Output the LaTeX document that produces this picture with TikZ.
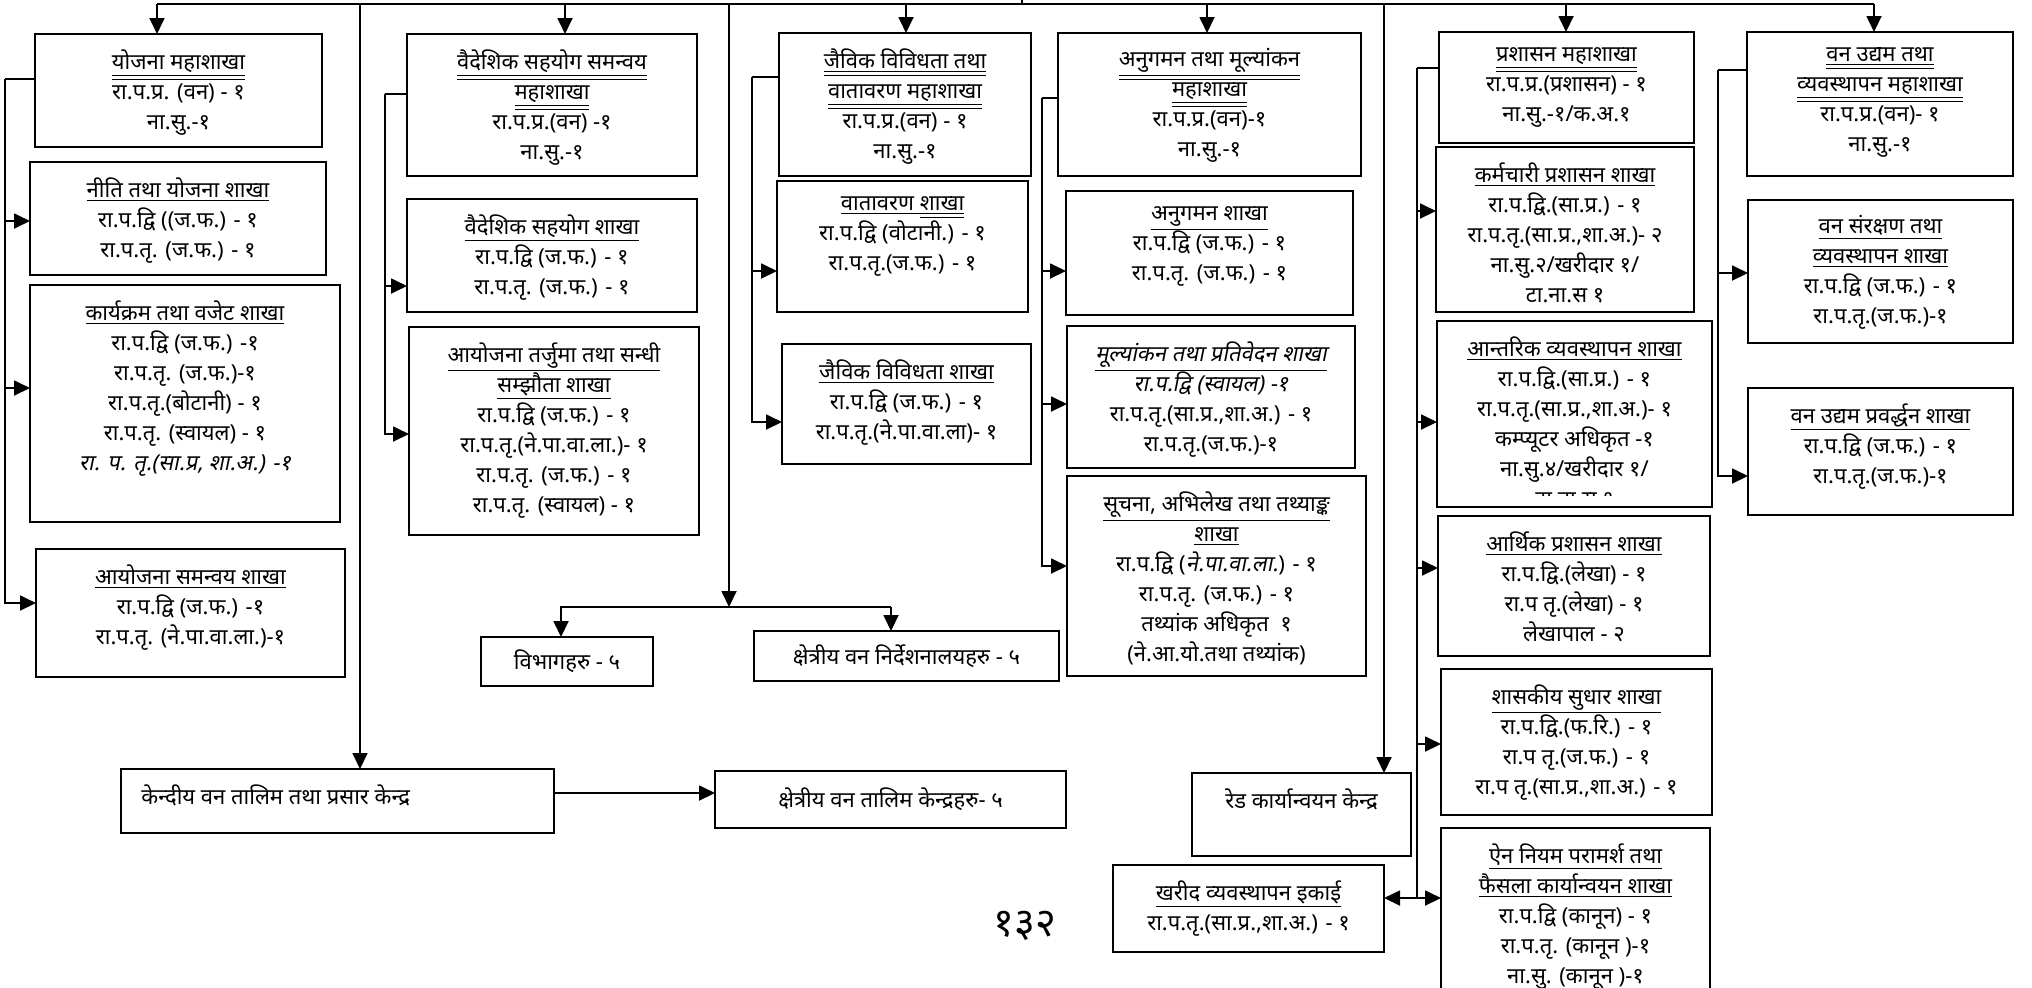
\documentclass[tikz,border=0pt]{standalone}
\usepackage{fontspec}
\newfontfamily\deva[Script=Devanagari]{Noto Sans}
\newfontfamily\devasl[Script=Devanagari,FakeSlant=0.2]{Noto Sans}
\usetikzlibrary{arrows.meta,positioning}

\newcommand{\sline}[1]{\underline{#1}}
\newcommand{\dline}[1]{\underline{\underline{#1}}}

\tikzset{
  orgbox/.style={rectangle, draw, line width=1.1pt, anchor=north west, inner sep=0pt, outer sep=0pt},
  orgtxt/.style={font=\deva\fontsize{11}{15}\selectfont, align=center, inner sep=0pt},
  conn/.style={line width=0.9pt},
  arr/.style={line width=0.9pt, -{Triangle[length=8pt,width=7.5pt]}},
}

\begin{document}
\begin{tikzpicture}[x=0.5pt, y=-0.5pt]
\useasboundingbox (0,0) rectangle (2032,987);

% boxes
\node[orgbox, minimum width=143.5pt, minimum height=56.5pt] (yojana) at (35,34) {};
\node[orgbox, minimum width=148pt, minimum height=56.5pt] (niti) at (30,162) {};
\node[orgbox, minimum width=155pt, minimum height=118.5pt] (karyakram) at (30,285) {};
\node[orgbox, minimum width=154.5pt, minimum height=64pt] (samanvaya) at (36,549) {};
\node[orgbox, minimum width=145pt, minimum height=71pt] (vaideshik) at (407,34) {};
\node[orgbox, minimum width=145pt, minimum height=56.5pt] (sahayog) at (407,199) {};
\node[orgbox, minimum width=145pt, minimum height=104pt] (tarjuma) at (409,327) {};
\node[orgbox, orgtxt, minimum width=86pt, minimum height=24.5pt] (vibhag) at (481,637) {विभागहरु - ५};
\node[orgbox, orgtxt, minimum width=152.5pt, minimum height=25pt] (nirdesh) at (754,631) {क्षेत्रीय वन निर्देशनालयहरु - ५};
\node[orgbox, minimum width=216.5pt, minimum height=32pt] (kendriya) at (121,769) {};
\node[orgbox, orgtxt, minimum width=175.5pt, minimum height=28.5pt] (talim) at (715,771) {क्षेत्रीय वन तालिम केन्द्रहरु- ५};
\node[orgbox, minimum width=126pt, minimum height=71.5pt] (jaivik) at (779,33) {};
\node[orgbox, minimum width=125.5pt, minimum height=65.5pt] (vatavaran) at (777,181) {};
\node[orgbox, minimum width=124.5pt, minimum height=60pt] (jshakha) at (782,344) {};
\node[orgbox, minimum width=151.5pt, minimum height=71.5pt] (anugaman) at (1058,33) {};
\node[orgbox, minimum width=143.5pt, minimum height=62pt] (ashakha) at (1066,191) {};
\node[orgbox, minimum width=144pt, minimum height=71pt] (mulyankan) at (1067,326) {};
\node[orgbox, minimum width=149.5pt, minimum height=100pt] (suchana) at (1067,476) {};
\node[orgbox, minimum width=109.5pt, minimum height=41.5pt] (red) at (1192,773) {};
\node[orgbox, minimum width=135.5pt, minimum height=43.5pt] (kharid) at (1113,865) {};
\node[orgbox, minimum width=127.5pt, minimum height=55.5pt] (prashasan) at (1439,32) {};
\node[orgbox, minimum width=129pt, minimum height=82.5pt] (karmachari) at (1436,147) {};
\node[orgbox, minimum width=137.5pt, minimum height=93pt] (antarik) at (1437,321) {};
\node[orgbox, minimum width=136pt, minimum height=70pt] (arthik) at (1438,516) {};
\node[orgbox, minimum width=135.5pt, minimum height=73pt] (shasakiya) at (1441,669) {};
\node[orgbox, minimum width=134.5pt, minimum height=90pt] (ain) at (1441,828) {};
\node[orgbox, minimum width=133pt, minimum height=72pt] (vanudyam) at (1747,32) {};
\node[orgbox, minimum width=132.5pt, minimum height=71.5pt] (samrakshan) at (1748,200) {};
\node[orgbox, minimum width=132.5pt, minimum height=63.5pt] (pravardhan) at (1748,388) {};

% texts
\node[orgtxt, below=7.5pt of yojana.north] (yojana-t) {\dline{योजना महाशाखा}\\ रा.प.प्र. (वन) - १\\ ना.सु.-१};
\node[orgtxt, below=7.5pt of niti.north] (niti-t) {\sline{नीति तथा योजना शाखा}\\ रा.प.द्वि ((ज.फ.) - १\\ रा.प.तृ. (ज.फ.) - १};
\node[orgtxt, below=7.5pt of karyakram.north] (karyakram-t) {\sline{कार्यक्रम तथा वजेट शाखा}\\ रा.प.द्वि (ज.फ.) -१\\ रा.प.तृ. (ज.फ.)-१\\ रा.प.तृ.(बोटानी) - १\\ रा.प.तृ. (स्वायल) - १\\ {\devasl रा. प. तृ.(सा.प्र, शा.अ.) -१}};
\node[orgtxt, below=7.5pt of samanvaya.north] (samanvaya-t) {\sline{आयोजना समन्वय शाखा}\\ रा.प.द्वि (ज.फ.) -१\\ रा.प.तृ. (ने.पा.वा.ला.)-१};
\node[orgtxt, below=7.5pt of vaideshik.north] (vaideshik-t) {\dline{वैदेशिक सहयोग समन्वय}\\ \dline{महाशाखा}\\ रा.प.प्र.(वन) -१\\ ना.सु.-१};
\node[orgtxt, below=7.5pt of sahayog.north] (sahayog-t) {\sline{वैदेशिक सहयोग शाखा}\\ रा.प.द्वि (ज.फ.) - १\\ रा.प.तृ. (ज.फ.) - १};
\node[orgtxt, below=7.5pt of tarjuma.north] (tarjuma-t) {\sline{आयोजना तर्जुमा तथा सन्धी}\\ \sline{सम्झौता शाखा}\\ रा.प.द्वि (ज.फ.) - १\\ रा.प.तृ.(ने.पा.वा.ला.)- १\\ रा.प.तृ. (ज.फ.) - १\\ रा.प.तृ. (स्वायल) - १};
\node[orgtxt, right=10pt of kendriya.west, yshift=3pt] (kendriya-t) {केन्दीय वन तालिम तथा प्रसार केन्द्र};
\node[orgtxt, below=7.5pt of jaivik.north] (jaivik-t) {\dline{जैविक विविधता तथा}\\ \dline{वातावरण महाशाखा}\\ रा.प.प्र.(वन) - १\\ ना.सु.-१};
\node[orgtxt, below=7.5pt of vatavaran.north] (vatavaran-t) {\sline{वातावरण }\dline{शाखा}\\ रा.प.द्वि (वोटानी.) - १\\ रा.प.तृ.(ज.फ.) - १};
\node[orgtxt, below=7.5pt of jshakha.north] (jshakha-t) {\sline{जैविक विविधता शाखा}\\ रा.प.द्वि (ज.फ.) - १\\ रा.प.तृ.(ने.पा.वा.ला)- १};
\node[orgtxt, below=7.5pt of anugaman.north] (anugaman-t) {\dline{अनुगमन तथा मूल्यांकन}\\ \dline{महाशाखा}\\ रा.प.प्र.(वन)-१\\ ना.सु.-१};
\node[orgtxt, below=7.5pt of ashakha.north] (ashakha-t) {\sline{अनुगमन शाखा}\\ रा.प.द्वि (ज.फ.) - १\\ रा.प.तृ. (ज.फ.) - १};
\node[orgtxt, below=7.5pt of mulyankan.north] (mulyankan-t) {\sline{\devasl मूल्यांकन तथा प्रतिवेदन शाखा}\\ {\devasl रा.प.द्वि (स्वायल) -१}\\ रा.प.तृ.(सा.प्र.,शा.अ.) - १\\ रा.प.तृ.(ज.फ.)-१};
\node[orgtxt, below=7.5pt of suchana.north] (suchana-t) {\sline{सूचना, अभिलेख तथा तथ्याङ्क}\\ \sline{शाखा}\\ रा.प.द्वि ({\devasl ने.पा.वा.ला.}) - १\\ रा.प.तृ. (ज.फ.) - १\\ तथ्यांक अधिकृत\ \ १\\ (ने.आ.यो.तथा तथ्यांक)};
\node[orgtxt, below=7.5pt of red.north] (red-t) {रेड कार्यान्वयन केन्द्र};
\node[orgtxt, below=7.5pt of kharid.north] (kharid-t) {\sline{खरीद व्यवस्थापन इकाई}\\ रा.प.तृ.(सा.प्र.,शा.अ.) - १};
\node[orgtxt, below=7.5pt of prashasan.north] (prashasan-t) {\dline{प्रशासन महाशाखा}\\ रा.प.प्र.(प्रशासन) - १\\ ना.सु.-१/क.अ.१};
\node[orgtxt, below=7.5pt of karmachari.north] (karmachari-t) {\sline{कर्मचारी प्रशासन शाखा}\\ रा.प.द्वि.(सा.प्र.) - १\\ रा.प.तृ.(सा.प्र.,शा.अ.)- २\\ ना.सु.२/खरीदार १/\\ टा.ना.स १};
\begin{scope}
\clip (antarik.north west) rectangle ([yshift=6pt]antarik.south east);
\node[orgtxt, below=7.5pt of antarik.north] (antarik-t) {\sline{आन्तरिक व्यवस्थापन शाखा}\\ रा.प.द्वि.(सा.प्र.) - १\\ रा.प.तृ.(सा.प्र.,शा.अ.)- १\\ कम्प्यूटर अधिकृत -१\\ ना.सु.४/खरीदार १/\\ टा.ना.स १};
\end{scope}
\node[orgtxt, below=7.5pt of arthik.north] (arthik-t) {\sline{आर्थिक प्रशासन शाखा}\\ रा.प.द्वि.(लेखा) - १\\ रा.प तृ.(लेखा) - १\\ लेखापाल - २};
\node[orgtxt, below=7.5pt of shasakiya.north] (shasakiya-t) {\sline{शासकीय सुधार शाखा}\\ रा.प.द्वि.(फ.रि.) - १\\ रा.प तृ.(ज.फ.) - १\\ रा.प तृ.(सा.प्र.,शा.अ.) - १};
\node[orgtxt, below=7.5pt of ain.north] (ain-t) {\sline{ऐन नियम परामर्श तथा}\\ \sline{फैसला कार्यान्वयन शाखा}\\ रा.प.द्वि (कानून) - १\\ रा.प.तृ. (कानून )-१\\ ना.सु. (कानून )-१};
\node[orgtxt, below=7.5pt of vanudyam.north] (vanudyam-t) {\dline{वन उद्यम तथा}\\ \dline{व्यवस्थापन महाशाखा}\\ रा.प.प्र.(वन)- १\\ ना.सु.-१};
\node[orgtxt, below=7.5pt of samrakshan.north] (samrakshan-t) {\sline{वन संरक्षण तथा}\\ \sline{व्यवस्थापन शाखा}\\ रा.प.द्वि (ज.फ.) - १\\ रा.प.तृ.(ज.फ.)-१};
\node[orgtxt, below=7.5pt of pravardhan.north] (pravardhan-t) {\sline{वन उद्यम प्रवर्द्धन शाखा}\\ रा.प.द्वि (ज.फ.) - १\\ रा.प.तृ.(ज.फ.)-१};

\node[font=\deva\fontsize{20}{24}\selectfont, inner sep=0pt] (pageno) at (1025,926) {१३२};

% top bus
\coordinate (top) at (1022,0);
\coordinate (d1) at (157,4);
\coordinate (d2) at (565,4);
\coordinate (d3) at (906,4);
\coordinate (d4) at (1207,4);
\coordinate (d5) at (1566,4);
\coordinate (d6) at (1874,4);
\coordinate (v1) at (360,4);
\coordinate (v2) at (729,4);
\coordinate (v3) at (1384,4);
\draw[conn] (d1) -- (d6);
\draw[conn] (top) -- (top |- d1);
\draw[arr] (d1) -- (d1 |- yojana.north);
\draw[arr] (d2) -- (d2 |- vaideshik.north);
\draw[arr] (d3) -- (d3 |- jaivik.north);
\draw[arr] (d4) -- (d4 |- anugaman.north);
\draw[arr] (d5) -- (d5 |- prashasan.north);
\draw[arr] (d6) -- (d6 |- vanudyam.north);
\draw[arr] (v1) -- (v1 |- kendriya.north);
\draw[arr] (v3) -- (v3 |- red.north);

% departments and directorates
\coordinate (b2) at (729,607);
\coordinate (b2l) at (561,607);
\coordinate (b2r) at (891,607);
\draw[arr] (v2) -- (b2);
\draw[arr] (b2r) -- (b2l) -- (b2l |- vibhag.north);
\draw[arr] (b2r) -- (b2r |- nirdesh.north);
\draw[arr] ([yshift=4pt]kendriya.east) -- ([yshift=4pt]kendriya.east -| talim.west);

% side brackets
\coordinate (s1) at (5,79);
\coordinate (s2) at (385,94);
\coordinate (s3) at (752,77);
\coordinate (s4) at (1042,98);
\coordinate (s5) at (1417,68);
\coordinate (s6) at (1718,70);

\draw[conn] (s1) -- (s1 -| yojana.west);
\draw[arr] (s1) |- ([yshift=-1.25pt]niti.west);
\draw[arr] (s1) |- ([yshift=7.75pt]karyakram.west);
\draw[arr] (s1) |- ([yshift=5pt]samanvaya.west);

\draw[conn] (s2) -- (s2 -| vaideshik.west);
\draw[arr] (s2) |- ([yshift=-15.25pt]sahayog.west);
\draw[arr] (s2) |- ([yshift=-1.5pt]tarjuma.west);

\draw[conn] (s3) -- (s3 -| jaivik.west);
\draw[arr] (s3) |- ([yshift=-12.25pt]vatavaran.west);
\draw[arr] (s3) |- ([yshift=-9pt]jshakha.west);

\draw[conn] (s4) -- (s4 -| anugaman.west);
\draw[arr] (s4) |- ([yshift=-9pt]ashakha.west);
\draw[arr] (s4) |- ([yshift=-3.5pt]mulyankan.west);
\draw[arr] (s4) |- ([yshift=5pt]suchana.west);

\draw[conn] (s5) -- (s5 -| prashasan.west);
\draw[arr] (s5) |- ([yshift=9.25pt]karmachari.west);
\draw[arr] (s5) |- ([yshift=-4pt]antarik.west);
\draw[arr] (s5) |- ([yshift=9pt]arthik.west);
\draw[arr] (s5) |- ([yshift=-1pt]shasakiya.west);
\draw[arr] (s5) |- ([yshift=10pt]ain.west);
\draw[arr] (s5) |- ([yshift=5.25pt]kharid.east);

\draw[conn] (s6) -- (s6 -| vanudyam.west);
\draw[arr] (s6) |- ([yshift=-0.75pt]samrakshan.west);
\draw[arr] (s6) |- ([yshift=-12.25pt]pravardhan.west);
\end{tikzpicture}
\end{document}
